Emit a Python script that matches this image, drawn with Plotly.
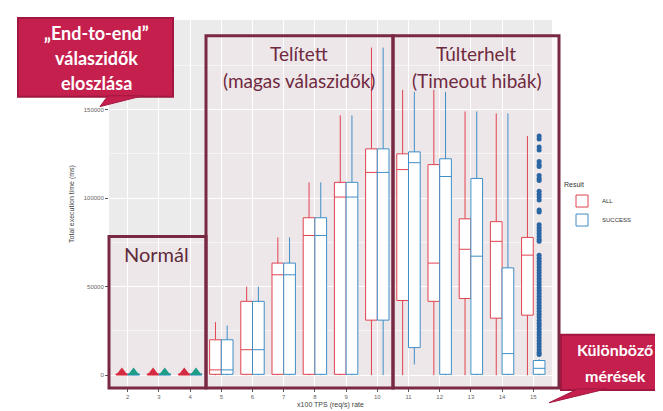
import plotly.graph_objects as go

# ---------------- data ----------------
categories = ["2", "3", "4", "5", "6", "7", "8", "9", "10", "11", "12", "13", "14", "15"]

all_lower = [0, 0, 0, 0, 0, 0, 0, 0, 0, 0, 0, 0, 0, 0]
all_q1 = [100, 100, 100, 500, 500, 500, 500, 500, 31100, 42200, 41700, 43300, 32200, 33900]
all_median = [300, 300, 300, 3000, 14400, 56700, 78900, 100600, 114500, 116100, 63300, 71100, 75600, 67800]
all_q3 = [800, 800, 800, 20000, 41700, 63300, 88900, 108900, 127800, 125000, 118900, 88300, 86700, 77800]
all_upper = [2000, 2000, 2000, 30000, 50000, 77800, 108900, 146700, 185000, 161100, 161100, 148900, 147800, 135000]

succ_lower = [0, 0, 0, 0, 0, 0, 0, 0, 0, 6100, 0, 0, 0, 0]
succ_q1 = [100, 100, 100, 500, 500, 500, 500, 500, 31100, 15600, 500, 500, 500, 500]
succ_median = [300, 300, 300, 3000, 14400, 56700, 78900, 100600, 114500, 120000, 112200, 67200, 12200, 3900]
succ_q3 = [800, 800, 800, 20000, 41700, 63300, 88900, 108900, 127800, 126100, 122200, 111100, 60600, 8300]
succ_upper = [2000, 2000, 2000, 28000, 50000, 77800, 108900, 146700, 185000, 160000, 160000, 148900, 147800, 9000]

# outliers
all_out_x = ["2", "3", "4"]
all_out_y = [1500, 1500, 1500]
succ_out_x_low = ["2", "3", "4"]
succ_out_y_low = [1500, 1500, 1500]
succ_out15_y = [135000, 133300,
                128900, 127200,
                120600, 118900, 117800,
                112800, 111100, 110000,
                103900, 102200, 100600, 98900,
                93300, 92200,
                85000, 83300, 81700, 80000, 78300, 76700, 75600,
                67800, 66100, 64400, 62800, 61100, 59400, 57800, 56100,
                54400, 52800, 51100, 49400, 47800, 46100, 44400, 42800, 41100,
                39400, 37800, 36100, 34400, 32800, 31100, 29400, 27800, 26100,
                24400, 22800, 21100, 19400, 17800, 16100, 14400, 12800, 11700]

y_ticks = [0, 50000, 100000, 150000]
y_tick_labels = ["0", "50000", "100000", "150000"]

RED = "#E0424F"
BLUE = "#3E8EC6"

fig = go.Figure()
fig.add_trace(go.Box(
    name="ALL", x=categories, q1=all_q1, median=all_median, q3=all_q3,
    lowerfence=all_lower, upperfence=all_upper,
    line=dict(color=RED, width=1), fillcolor="white",
    offsetgroup="ALL", alignmentgroup="a", boxpoints=False, whiskerwidth=0
))
fig.add_trace(go.Box(
    name="SUCCESS", x=categories, q1=succ_q1, median=succ_median, q3=succ_q3,
    lowerfence=succ_lower, upperfence=succ_upper,
    line=dict(color=BLUE, width=1), fillcolor="white",
    offsetgroup="SUCCESS", alignmentgroup="a", boxpoints=False, whiskerwidth=0
))
fig.add_trace(go.Scatter(
    x=all_out_x, y=all_out_y, mode="markers", showlegend=False,
    marker=dict(symbol="triangle-up", size=10, color="#D42A42", line=dict(width=0)),
    offsetgroup="ALL", alignmentgroup="a", hoverinfo="skip"
))
succ_x = succ_out_x_low + ["15"] * len(succ_out15_y)
succ_y = succ_out_y_low + succ_out15_y
fig.add_trace(go.Scatter(
    x=succ_x, y=succ_y, mode="markers", showlegend=False,
    marker=dict(symbol=["triangle-up"] * 3 + ["circle"] * len(succ_out15_y),
                size=[10] * 3 + [5] * len(succ_out15_y),
                color=["#1E9C8A"] * 3 + ["#2A66A3"] * len(succ_out15_y),
                opacity=1, line=dict(width=0)),
    offsetgroup="SUCCESS", alignmentgroup="a", hoverinfo="skip"
))

# ------------- layout helpers (pixel -> paper) -------------
L, R, T, B = 101, 544, 12, 386
W, H = 663, 411


def px(x):
    return (x - L) / (R - L)


def py(y):
    return (B - y) / (B - T)


def rect(x0, y0, x1, y1, layer="above", **kw):
    return dict(type="rect", xref="paper", yref="paper",
                x0=px(x0), x1=px(x1), y0=py(y1), y1=py(y0), layer=layer, **kw)


def path(points, **kw):
    d = "M " + " L ".join(f"{px(a):.5f},{py(b):.5f}" for a, b in points) + " Z"
    return dict(type="path", xref="paper", yref="paper", path=d, layer="above", **kw)


MAROON = "#7A2943"
CRIMSON = "#C51F4E"
TINT = "rgba(255,215,225,0.18)"
NOLINE = dict(width=0)
shapes = [
    rect(101, 232, 198, 386, layer="below", line=NOLINE, fillcolor=TINT),
    rect(198, 28, 385, 386, layer="below", line=NOLINE, fillcolor=TINT),
    rect(385, 28, 551, 386, layer="below", line=NOLINE, fillcolor=TINT),
    rect(101, 232, 198, 386, line=dict(color=MAROON, width=3)),
    rect(198, 28, 385, 386, line=dict(color=MAROON, width=3)),
    rect(385, 28, 551, 386, line=dict(color=MAROON, width=3)),
    rect(10, 10, 165, 90, line=dict(color="#A01840", width=2), fillcolor=CRIMSON),
    path([(100, 89), (92, 100), (135, 89)], line=dict(color="#A01840", width=1), fillcolor=CRIMSON),
    rect(553, 332, 663, 388, line=dict(color="#A01840", width=2), fillcolor=CRIMSON),
    path([(570, 387), (541, 401), (598, 387)], line=dict(color="#A01840", width=1), fillcolor=CRIMSON),
]


def note(x, y, text, size, color, bold=False):
    return dict(xref="paper", yref="paper", x=px(x), y=py(y), text=(f"<b>{text}</b>" if bold else text),
                showarrow=False, xanchor="center", yanchor="middle",
                font=dict(family="Lato", size=size, color=color))


annotations = [
    note(148, 250, "Normál", 20, "#5E2A3A"),
    note(291, 46, "Telített", 19, "#6E2A40"),
    note(291, 73, "(magas válaszidők)", 19, "#6E2A40"),
    note(468, 46, "Túlterhelt", 19, "#6E2A40"),
    note(468, 73, "(Timeout hibák)", 19, "#6E2A40"),
    note(88, 25, "„End-to-end”", 18, "white", bold=True),
    note(88, 51, "válaszidők", 18, "white", bold=True),
    note(88, 76, "eloszlása", 18, "white", bold=True),
    note(607, 347, "Különböző", 16, "white", bold=True),
    note(607, 373, "mérések", 16, "white", bold=True),
]

fig.update_layout(
    width=W, height=H,
    margin=dict(l=L, r=W - R, t=T, b=H - B),
    paper_bgcolor="white", plot_bgcolor="#EBEBEB",
    boxmode="group", boxgap=0.25, boxgroupgap=0.0,
    scattermode="group", scattergap=0.25,
    shapes=shapes, annotations=annotations,
    legend=dict(x=px(554), y=py(172), xanchor="left", yanchor="top",
                title=dict(text="Result", font=dict(size=7, color="#333")),
                font=dict(size=6, color="#333"), bgcolor="rgba(0,0,0,0)",
                tracegroupgap=0, itemwidth=30),
    font=dict(family="Liberation Sans", size=7, color="#555"),
)
fig.update_xaxes(
    type="category", categoryorder="array", categoryarray=categories,
    range=[-0.6, len(categories) - 0.4],
    showgrid=True, gridcolor="white", gridwidth=1,
    ticks="outside", ticklen=3, tickcolor="#555", tickfont=dict(size=6, color="#666"),
    title=dict(text="x100 TPS (req/s) rate", font=dict(size=7, color="#444"), standoff=2),
    zeroline=False,
)
fig.update_yaxes(
    range=[-7222, 200560],
    tickvals=y_ticks, ticktext=y_tick_labels,
    showgrid=True, gridcolor="white", gridwidth=1,
    minor=dict(dtick=25000, tick0=0, showgrid=True, gridcolor="#F5F5F5", gridwidth=0.5),
    ticks="outside", ticklen=3, tickcolor="#555", tickfont=dict(size=6, color="#666"),
    title=dict(text="Total execution time (ms)", font=dict(size=7, color="#444"), standoff=8),
    zeroline=False,
)

fig.write_html("out.html")
